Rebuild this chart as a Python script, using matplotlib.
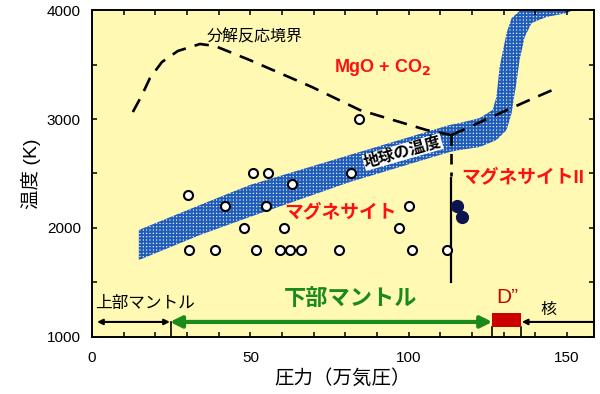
import matplotlib
matplotlib.use("Agg")
import matplotlib.pyplot as plt

plt.rcParams['font.family'] = ['Liberation Sans', 'Noto Sans CJK JP', 'DejaVu Sans']
plt.rcParams['hatch.linewidth'] = 1.4

# open circles: pressure (万気圧), temperature (K)
open_p = [30.4, 41.9, 47.9, 30.7, 38.9, 50.8, 55.5, 63.1, 81.7, 84.2, 54.9, 60.5,
          100.0, 96.8, 100.9, 112.0, 51.7, 59.3, 62.5, 65.9, 77.9]
open_t = [2300, 2200, 2000, 1800, 1800, 2500, 2500, 2400, 2500, 3000, 2200, 2000,
          2200, 2000, 1800, 1800, 1800, 1800, 1800, 1800, 1800]

# filled circles (magnesite II)
fill_p = [115.2, 116.9]
fill_t = [2200, 2100]

# decomposition boundary
dec_p = [12.9, 15.8, 18.3, 22.1, 27.1, 34.1, 38.8, 49.8, 69.4, 84.5, 105.6, 113.5]
dec_t = [3064, 3220, 3376, 3523, 3624, 3688, 3670, 3541, 3294, 3083, 2899, 2853]
dec2_p = [113.5, 138.1, 147.6]
dec2_t = [2853, 3174, 3294]

# phase boundary magnesite / magnesite II
pb_p = 113.5
pb_dash_t = [2853, 2480]
pb_solid_t = [2460, 1500]

# geotherm band
band_top_p = [14.8, 34.1, 49.8, 81.4, 112.9, 116.1, 122.4, 126.5, 127.7, 128.7, 130.9, 132.5, 135.0, 137.2]
band_top_t = [1982, 2211, 2394, 2670, 2945, 2963, 3009, 3083, 3202, 3477, 3789, 3926, 3991, 4000]
band_bot_p = [14.8, 34.1, 49.8, 81.4, 112.9, 116.1, 122.4, 127.7, 130.9, 132.5, 133.1, 134.0, 135.0, 136.6, 138.8, 143.5, 149.8, 152.0]
band_bot_t = [1706, 1936, 2101, 2422, 2697, 2716, 2743, 2807, 2899, 3055, 3174, 3330, 3541, 3752, 3881, 3936, 3972, 4000]

# layers
upper_mantle = [1.6, 24.6]
lower_mantle = [24.6, 126.4]
d2_layer = [126.4, 135.5]
core_start = 135.7
arrow_t = 1138

fig = plt.figure(figsize=(6, 3.94), dpi=100)
ax = fig.add_axes([0.1533, 0.1447, 0.8367, 0.8299])
ax.set_facecolor('#fff9b4')

band_p = band_top_p + band_bot_p[::-1]
band_t = band_top_t + band_bot_t[::-1]
ax.fill(band_p, band_t, facecolor='#dce6f4', edgecolor='#1f5db8', hatch='+' * 5,
        linewidth=0, zorder=1)

ax.plot(dec_p, dec_t, color='black', lw=1.9, linestyle=(0, (5.5, 3.5)), zorder=3)
ax.plot(dec2_p, dec2_t, color='black', lw=1.9, linestyle=(0, (5.5, 3.5)), zorder=3)
ax.plot([pb_p, pb_p], pb_dash_t, color='black', lw=1.9, linestyle=(0, (4, 3)), zorder=3)
ax.plot([pb_p, pb_p], pb_solid_t, color='black', lw=1.6, zorder=3)

ax.plot(open_p, open_t, 'o', ms=6.5, mfc='white', mec='black', mew=1.5, zorder=4)
ax.plot(fill_p, fill_t, 'o', ms=8.5, mfc='#0c1450', mec='#0c1450', zorder=4)

# layer arrows
ax.annotate('', xy=(upper_mantle[0], arrow_t), xytext=(upper_mantle[1], arrow_t),
            arrowprops=dict(arrowstyle='<|-|>', color='black', lw=1.5,
                            mutation_scale=8, shrinkA=0, shrinkB=0))
ax.annotate('', xy=(lower_mantle[0], arrow_t), xytext=(lower_mantle[1], arrow_t),
            arrowprops=dict(arrowstyle='<|-|>', color='#1a8a1a', lw=3,
                            mutation_scale=17, shrinkA=0, shrinkB=0))
ax.annotate('', xy=(core_start, arrow_t), xytext=(158.5, arrow_t),
            arrowprops=dict(arrowstyle='-|>', color='black', lw=1.5,
                            mutation_scale=8, shrinkA=0, shrinkB=0))
ax.fill_between(d2_layer, 1094, 1223, color='#cc0000', lw=0, zorder=3)
for xv, y0 in [(25.1, arrow_t), (d2_layer[0], 1094), (d2_layer[1], 1094)]:
    ax.plot([xv, xv], [1000, y0], color='black', lw=1.2)

# labels
red = '#ff1010'
ax.text(51.4, 3752, '分解反応境界', fontsize=11.5, ha='center', va='center')
ax.text(91.8, 3468, 'MgO + CO$_\\mathbf{2}$', fontsize=13, color=red,
        fontweight='bold', ha='center', va='center')
ax.text(116.7, 2468, 'マグネサイトII', fontsize=13.5, color=red,
        fontweight='bold', ha='left', va='center')
ax.text(78.4, 2147, 'マグネサイト', fontsize=13.5, color=red,
        fontweight='bold', ha='center', va='center')
ax.text(98.1, 2697, '地球の温度', fontsize=11.5, fontweight='bold', rotation=16,
        ha='center', va='center', rotation_mode='anchor', zorder=5,
        bbox=dict(facecolor='white', edgecolor='none', pad=0.3))
ax.text(16.7, 1312, '上部マントル', fontsize=12, ha='center', va='center')
ax.text(81.8, 1340, '下部マントル', fontsize=16, color='#1a8a1a', fontweight='bold',
        ha='center', va='center')
ax.text(131.2, 1365, 'D”', fontsize=15, color='#cc0000', ha='center', va='center')
ax.text(144.1, 1257, '核', fontsize=11.5, ha='center', va='center')

ax.set_xlim(0, 158.5)
ax.set_ylim(1000, 4000)
ax.set_xticks([0, 50, 100, 150])
ax.set_xticks(range(0, 160, 10), minor=True)
ax.set_yticks([1000, 2000, 3000, 4000])
ax.set_yticks(range(1000, 4001, 500), minor=True)
ax.tick_params(which='both', direction='in', top=True, right=True, length=3.5,
               width=1.1, labelsize=11)
ax.tick_params(axis='x', pad=10)
ax.tick_params(axis='y', pad=8)
for s in ax.spines.values():
    s.set_linewidth(1.4)

ax.set_xlabel('圧力（万気圧）', fontsize=14, labelpad=3)
ax.set_ylabel('温度 (K)', fontsize=14, labelpad=4)

plt.savefig('out.png', dpi=100)
